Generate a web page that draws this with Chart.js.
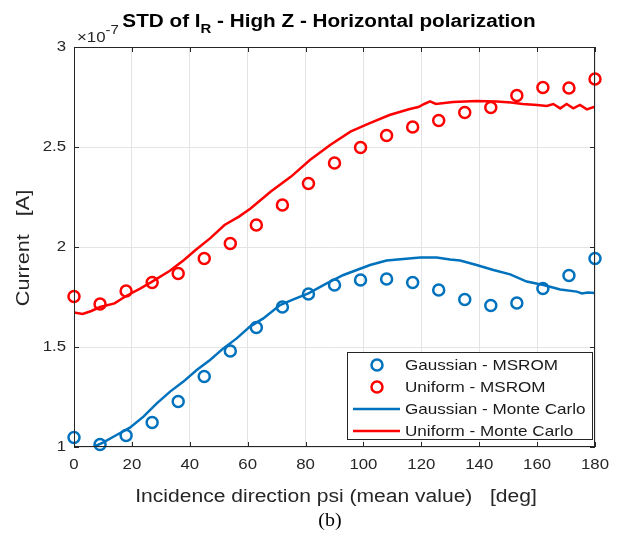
<!DOCTYPE html>
<html>
<head>
<meta charset="utf-8">
<script src="https://cdn.jsdelivr.net/npm/chart.js@4.4.0/dist/chart.umd.min.js"></script>
<style>
  html, body { margin: 0; padding: 0; background: #fff; }
  #wrap { width: 619px; height: 538px; }
</style>
</head>
<body>
<div id="wrap"><canvas id="chart" width="619" height="538"></canvas></div>
<script>
// MSROM markers, every 9 deg
const markerX = [0, 9, 18, 27, 36, 45, 54, 63, 72, 81, 90, 99, 108, 117, 126, 135, 144, 153, 162, 171, 180];
const gaussMsrom = [1.048, 1.013, 1.057, 1.122, 1.227, 1.352, 1.48, 1.597, 1.70, 1.765, 1.81, 1.835, 1.84, 1.822, 1.785, 1.738, 1.708, 1.72, 1.793, 1.858, 1.943];
const uniformMsrom = [1.752, 1.715, 1.78, 1.823, 1.868, 1.943, 2.018, 2.11, 2.21, 2.317, 2.42, 2.497, 2.557, 2.60, 2.633, 2.672, 2.698, 2.757, 2.798, 2.795, 2.84];

// Monte Carlo curves
const gaussMcX = [0, 3, 6.7, 10, 14.7, 19.3, 24, 28.6, 33.2, 37.8, 42.4, 47, 51.6, 56.2, 60.8, 65.4, 71.2, 75.8, 81, 87.3, 93.1, 97.7, 102.3, 108, 113.8, 119.6, 125.3, 129.9, 133.4, 139.1, 144.9, 150.7, 156.4, 162.2, 168, 173.7, 175.5, 177.5, 180];
const gaussMcY = [1.002, 0.993, 1.0, 1.022, 1.06, 1.097, 1.152, 1.218, 1.277, 1.327, 1.385, 1.435, 1.493, 1.543, 1.602, 1.643, 1.71, 1.738, 1.768, 1.818, 1.86, 1.885, 1.91, 1.932, 1.94, 1.948, 1.948, 1.938, 1.932, 1.91, 1.885, 1.863, 1.827, 1.81, 1.788, 1.777, 1.768, 1.773, 1.77];
const uniformMcX = [0, 3, 6, 9, 14, 18, 23, 27, 33, 38, 42, 47, 52, 57, 61, 68, 75, 81.5, 88.5, 95.5, 102, 109, 116, 119, 121, 123, 125, 131, 139, 146, 151, 155, 160, 163.3, 165.6, 168, 170.2, 172.5, 174.8, 177.2, 179.5, 180];
const uniformMcY = [1.672, 1.665, 1.68, 1.70, 1.718, 1.755, 1.793, 1.827, 1.88, 1.935, 1.985, 2.043, 2.11, 2.152, 2.193, 2.277, 2.352, 2.435, 2.51, 2.577, 2.618, 2.66, 2.69, 2.70, 2.715, 2.728, 2.715, 2.725, 2.73, 2.727, 2.722, 2.715, 2.71, 2.705, 2.715, 2.693, 2.715, 2.693, 2.71, 2.688, 2.70, 2.697];

const xTicks = [0, 20, 40, 60, 80, 100, 120, 140, 160, 180];
const yTicks = [1, 1.5, 2, 2.5, 3];
const yTickLabels = ["1", "1.5", "2", "2.5", "3"];

const BLUE = "#0072BD";
const RED = "#FF0000";
const AXIS = "#262626";
const FONT = "'Liberation Sans', Arial, sans-serif";
const SX = 1.12; // the original figure is a bit wider than tall, text looks stretched

const pts = (xs, ys) => xs.map((x, i) => ({ x: x, y: ys[i] }));

const legendItems = [
  { label: "Gaussian - MSROM", color: BLUE, kind: "circle" },
  { label: "Uniform - MSROM", color: RED, kind: "circle" },
  { label: "Gaussian - Monte Carlo", color: BLUE, kind: "line" },
  { label: "Uniform - Monte Carlo", color: RED, kind: "line" },
];

function stretchText(ctx, text, x, y, font, sx, align) {
  ctx.save();
  ctx.font = font;
  ctx.textAlign = align;
  ctx.translate(x, y);
  ctx.scale(sx, 1);
  ctx.fillText(text, 0, 0);
  ctx.restore();
}

const decorations = {
  id: "decorations",
  afterDraw(chart) {
    const ctx = chart.ctx;
    const a = chart.chartArea;
    const xs = chart.scales.x, ys = chart.scales.y;
    ctx.save();

    // box and inward ticks
    ctx.strokeStyle = AXIS;
    ctx.lineWidth = 1;
    ctx.strokeRect(a.left + 0.5, a.top + 0.5, a.right - a.left - 1, a.bottom - a.top - 1);
    ctx.beginPath();
    xTicks.forEach((t) => {
      const px = Math.round(xs.getPixelForValue(t)) + 0.5;
      ctx.moveTo(px, a.bottom); ctx.lineTo(px, a.bottom - 5);
      ctx.moveTo(px, a.top); ctx.lineTo(px, a.top + 5);
    });
    yTicks.forEach((t) => {
      const py = Math.round(ys.getPixelForValue(t)) + 0.5;
      ctx.moveTo(a.left, py); ctx.lineTo(a.left + 5, py);
      ctx.moveTo(a.right, py); ctx.lineTo(a.right - 5, py);
    });
    ctx.stroke();

    // tick labels
    ctx.fillStyle = AXIS;
    ctx.textBaseline = "middle";
    xTicks.forEach((t) => {
      stretchText(ctx, String(t), xs.getPixelForValue(t), 465, "15px " + FONT, SX, "center");
    });
    yTicks.forEach((t, i) => {
      stretchText(ctx, yTickLabels[i], a.left - 8, ys.getPixelForValue(t), "15px " + FONT, SX, "right");
    });

    // legend
    const lx = 347, ly = 352, lw = 245, lh = 87;
    ctx.fillStyle = "#fff";
    ctx.fillRect(lx, ly, lw, lh);
    ctx.strokeStyle = AXIS;
    ctx.strokeRect(lx + 0.5, ly + 0.5, lw, lh);
    legendItems.forEach((it, i) => {
      const cy = ly + 13 + i * 22;
      ctx.strokeStyle = it.color;
      ctx.lineWidth = 2.5;
      ctx.beginPath();
      if (it.kind === "circle") {
        ctx.arc(377, cy, 5.5, 0, Math.PI * 2);
      } else {
        ctx.moveTo(353, cy); ctx.lineTo(400, cy);
      }
      ctx.stroke();
      ctx.fillStyle = "#1a1a1a";
      stretchText(ctx, it.label, 405, cy + 1, "15px " + FONT, 1.14, "left");
    });

    // title with subscript
    ctx.fillStyle = "#000";
    ctx.textBaseline = "alphabetic";
    const TSX = 1.15;
    const tf = "bold 18px " + FONT, sf = "bold 13px " + FONT;
    const p1 = "STD of I", sub = "R", p2 = " - High Z - Horizontal polarization";
    ctx.font = tf; const w1 = ctx.measureText(p1).width * TSX, w3 = ctx.measureText(p2).width * TSX;
    ctx.font = sf; const w2 = ctx.measureText(sub).width * TSX;
    let tx = 329 - (w1 + w2 + w3) / 2;
    stretchText(ctx, p1, tx, 27, tf, TSX, "left"); tx += w1;
    stretchText(ctx, sub, tx, 33, sf, TSX, "left"); tx += w2;
    stretchText(ctx, p2, tx, 27, tf, TSX, "left");

    // exponent label
    ctx.fillStyle = AXIS;
    ctx.font = "15px " + FONT;
    const we = ctx.measureText("\u00d710").width * SX;
    stretchText(ctx, "\u00d710", 77, 42, "15px " + FONT, SX, "left");
    stretchText(ctx, "-7", 77 + we, 34, "12px " + FONT, 1.25, "left");

    // axis titles
    ctx.textBaseline = "middle";
    stretchText(ctx, "Incidence direction psi (mean value)   [deg]", 336, 497, "18px " + FONT, 1.17, "center");
    ctx.save();
    ctx.translate(24, 248);
    ctx.rotate(-Math.PI / 2);
    stretchText(ctx, "Current   [A]", 0, 0, "18px " + FONT, 1.2, "center");
    ctx.restore();

    ctx.fillStyle = "#000";
    stretchText(ctx, "(b)", 330, 521, "19px 'Liberation Serif', 'Times New Roman', serif", 1.05, "center");
    ctx.restore();
  },
};

new Chart(document.getElementById("chart"), {
  type: "scatter",
  data: {
    datasets: [
      {
        label: "Gaussian - MSROM",
        data: pts(markerX, gaussMsrom),
        showLine: false,
        pointStyle: "circle",
        pointRadius: 5.5,
        pointBorderWidth: 2.5,
        pointBorderColor: BLUE,
        pointBackgroundColor: "rgba(0,0,0,0)",
        clip: false,
        order: 1,
      },
      {
        label: "Uniform - MSROM",
        data: pts(markerX, uniformMsrom),
        showLine: false,
        pointStyle: "circle",
        pointRadius: 5.5,
        pointBorderWidth: 2.5,
        pointBorderColor: RED,
        pointBackgroundColor: "rgba(0,0,0,0)",
        clip: false,
        order: 1,
      },
      {
        label: "Gaussian - Monte Carlo",
        data: pts(gaussMcX, gaussMcY),
        showLine: true,
        pointRadius: 0,
        borderColor: BLUE,
        borderWidth: 2.5,
        tension: 0,
        order: 2,
      },
      {
        label: "Uniform - Monte Carlo",
        data: pts(uniformMcX, uniformMcY),
        showLine: true,
        pointRadius: 0,
        borderColor: RED,
        borderWidth: 2.5,
        tension: 0,
        order: 2,
      },
    ],
  },
  options: {
    responsive: false,
    animation: false,
    devicePixelRatio: 1,
    layout: { padding: { left: 0, top: 47, right: 24, bottom: 0 } },
    plugins: {
      legend: { display: false },
      title: { display: false },
      tooltip: { enabled: false },
    },
    scales: {
      x: {
        type: "linear",
        min: 0,
        max: 180,
        afterBuildTicks: (s) => { s.ticks = xTicks.map((v) => ({ value: v })); },
        afterFit: (s) => { s.height = 91; },
        grid: { color: "#e4e4e4", drawTicks: false },
        border: { display: false },
        ticks: { display: false },
      },
      y: {
        type: "linear",
        min: 1,
        max: 3,
        afterBuildTicks: (s) => { s.ticks = yTicks.map((v) => ({ value: v })); },
        afterFit: (s) => { s.width = 74; },
        grid: { color: "#e4e4e4", drawTicks: false },
        border: { display: false },
        ticks: { display: false },
      },
    },
  },
  plugins: [decorations],
});
</script>
</body>
</html>
